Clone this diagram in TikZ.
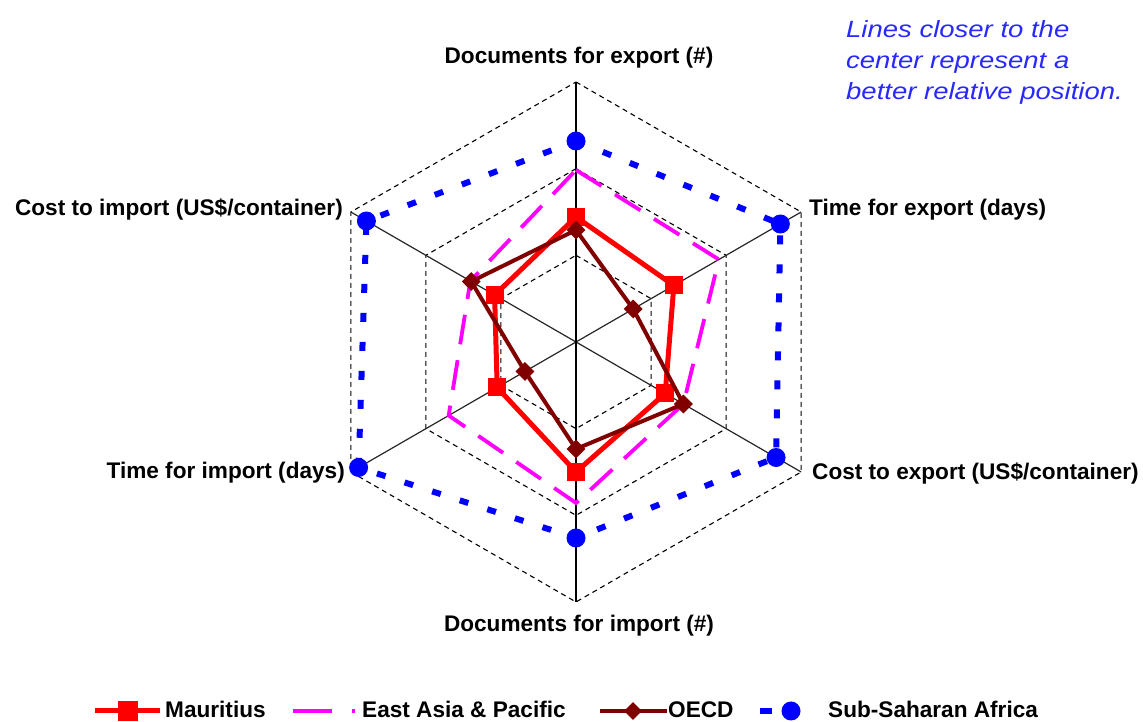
\documentclass[tikz,border=0pt]{standalone}
\usepackage{fontspec}
\setmainfont{Liberation Sans}
\usetikzlibrary{shapes.geometric,calc}
\definecolor{mred}{RGB}{255,0,0}
\definecolor{oecdc}{RGB}{128,0,0}
\definecolor{eapc}{RGB}{255,0,255}
\definecolor{ssac}{RGB}{0,0,255}
\definecolor{notec}{RGB}{40,40,255}
\begin{document}
\begin{tikzpicture}[x=1pt,y=1pt,
  gridline/.style={black, line width=1.1pt, dash pattern=on 5pt off 4pt},
  axisline/.style={black!85, line width=1.2pt},
  lab/.style={font=\fontsize{22.6}{27}\selectfont\bfseries, inner sep=0pt, text=black},
  notetext/.style={font=\fontsize{23.5}{28}\selectfont\itshape, inner sep=0pt, text=notec, anchor=base west},
  mauline/.style={mred, line width=5pt, line join=round},
  eapline/.style={eapc, line width=3.8pt, dash pattern=on 30pt off 16pt},
  oecdline/.style={oecdc, line width=4pt, line join=round},
  ssaline/.style={ssac, line width=6pt, dash pattern=on 9pt off 20pt},
  sqmark/.style={fill=mred, shape=rectangle, minimum size=18pt, inner sep=0pt},
  dmmark/.style={fill=oecdc, shape=diamond, minimum width=19pt, minimum height=19pt, inner sep=0pt},
  cimark/.style={fill=ssac, shape=circle, minimum size=19pt, inner sep=0pt},
]
\useasboundingbox (0,0) rectangle (1143,722);
\coordinate (O) at (576,380);

% grid hexagons
\foreach \r in {86.67,173.33,260}{
  \draw[gridline, shift={(576,380)}] (90:\r) -- (30:\r) -- (-30:\r) -- (-90:\r) -- (-150:\r) -- (150:\r) -- cycle;
}
% axes
\coordinate (A1) at ($(O)+(90:260)$);
\coordinate (A2) at ($(O)+(30:260)$);
\coordinate (A3) at ($(O)+(-30:260)$);
\coordinate (A4) at ($(O)+(-90:260)$);
\coordinate (A5) at ($(O)+(-150:260)$);
\coordinate (A6) at ($(O)+(150:260)$);
\draw[axisline] (O) -- (A2);
\draw[axisline] (O) -- (A3);
\draw[axisline] (O) -- (A5);
\draw[axisline] (O) -- (A6);
\draw[black, line width=1.6pt] (A1) -- (A4);

% East Asia & Pacific
\coordinate (E1) at ($(O)+(90:172)$);
\coordinate (E2) at ($(O)+(30:165)$);
\coordinate (E3) at ($(O)+(-30:124)$);
\coordinate (E4) at ($(O)+(-90:161)$);
\coordinate (E5) at ($(O)+(-150:147)$);
\coordinate (E6) at ($(O)+(150:122)$);
\draw[eapline] (E1) -- (E2) -- (E3) -- (E4) -- (E5) -- (E6) -- cycle;

% Mauritius
\coordinate (M1) at ($(O)+(90:125)$);
\coordinate (M2) at ($(O)+(30:113)$);
\coordinate (M3) at ($(O)+(-30:103)$);
\coordinate (M4) at ($(O)+(-90:130)$);
\coordinate (M5) at ($(O)+(-150:91)$);
\coordinate (M6) at ($(O)+(150:94)$);
\draw[mauline] (M1) -- (M2) -- (M3) -- (M4) -- (M5) -- (M6) -- cycle;
\foreach \i in {1,...,6}{ \node[sqmark] (mk\i) at (M\i) {}; }

% OECD
\coordinate (D1) at ($(O)+(90:112)$);
\coordinate (D2) at ($(O)+(30:66)$);
\coordinate (D3) at ($(O)+(-30:124)$);
\coordinate (D4) at ($(O)+(-90:107)$);
\coordinate (D5) at ($(O)+(-150:59)$);
\coordinate (D6) at ($(O)+(150:121)$);
\draw[oecdline] (D1) -- (D2) -- (D3) -- (D4) -- (D5) -- (D6) -- cycle;
\foreach \i in {1,...,6}{ \node[dmmark] (dk\i) at (D\i) {}; }

% Sub-Saharan Africa
\coordinate (S1) at ($(O)+(90:201)$);
\coordinate (S2) at ($(O)+(30:236)$);
\coordinate (S3) at ($(O)+(-30:231)$);
\coordinate (S4) at ($(O)+(-90:196)$);
\coordinate (S5) at ($(O)+(-150:251)$);
\coordinate (S6) at ($(O)+(150:242)$);
\draw[ssaline] (S1) -- (S2) -- (S3) -- (S4) -- (S5) -- (S6) -- cycle;
\foreach \i in {1,...,6}{ \node[cimark] (ck\i) at (S\i) {}; }

% axis labels
\node[lab, anchor=base] (lDE) at (579,658) {Documents for export (\#)};
\node[lab, anchor=base west] (lTE) at (809,506) {Time for export (days)};
\node[lab, anchor=base west] (lCE) at (812,242) {Cost to export (US\$/container)};
\node[lab, anchor=base] (lDI) at (579,90) {Documents for import (\#)};
\node[lab, anchor=base east] (lTI) at (345,243) {Time for import (days)};
\node[lab, anchor=base east] (lCI) at (343,506) {Cost to import (US\$/container)};

% note
\node[notetext] (n1) at (846,684) {\scalebox{1.17}[1]{Lines closer to the}};
\node[notetext] (n2) at (846,653) {\scalebox{1.17}[1]{center represent a}};
\node[notetext] (n3) at (846,622) {\scalebox{1.17}[1]{better relative position.}};

% legend
\coordinate (L1a) at (95,11);
\coordinate (L1b) at (160,11);
\draw[mauline] (L1a) -- (L1b);
\node[sqmark, minimum size=20pt] (lg1) at (128,11) {};
\node[lab, anchor=base west] (lt1) at (165,4) {Mauritius};

\coordinate (L2a) at (293,11);
\coordinate (L2b) at (332,11);
\coordinate (L2c) at (352,11);
\coordinate (L2d) at (355,11);
\draw[eapc, line width=4pt] (L2a) -- (L2b);
\draw[eapc, line width=4pt] (L2c) -- (L2d);
\node[lab, anchor=base west] (lt2) at (362,4) {East Asia \& Pacific};

\coordinate (L3a) at (600,11);
\coordinate (L3b) at (667,11);
\draw[oecdline] (L3a) -- (L3b);
\node[dmmark, minimum width=18pt, minimum height=18pt] (lg3) at (633,11) {};
\node[lab, anchor=base west] (lt3) at (668,4) {OECD};

\coordinate (L4a) at (760,11);
\coordinate (L4b) at (772,11);
\draw[ssac, line width=6pt] (L4a) -- (L4b);
\node[cimark] (lg4) at (791,11) {};
\node[lab, anchor=base west] (lt4) at (828,4) {Sub-Saharan Africa};
\end{tikzpicture}
\end{document}
